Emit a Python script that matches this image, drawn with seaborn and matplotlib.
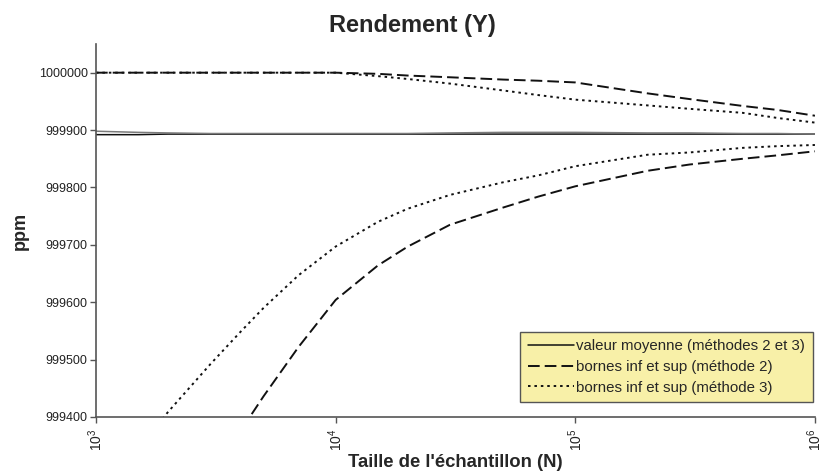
import matplotlib
matplotlib.use("Agg")
import matplotlib.pyplot as plt
import seaborn as sns
import numpy as np

sns.set_theme(style="white")
plt.rcParams["font.family"] = ["Liberation Sans", "DejaVu Sans"]
plt.rcParams["mathtext.fontset"] = "custom"
plt.rcParams["mathtext.rm"] = "Liberation Sans"
plt.rcParams["mathtext.it"] = "Liberation Sans:italic"
plt.rcParams["mathtext.bf"] = "Liberation Sans:bold"

# Sample sizes N
sample_sizes = [1000, 1500, 2000, 3000, 4000, 5000, 7000, 10000, 15000, 20000,
                30000, 50000, 70000, 100000, 200000, 300000, 500000, 700000, 1000000]

# Mean yield (ppm), methods 2 and 3
mean_m2 = [999898, 999896, 999895, 999894, 999894, 999894, 999894, 999894, 999894, 999894,
           999895, 999896, 999896, 999896, 999895, 999895, 999894, 999894, 999893]
mean_m3 = [999892, 999892, 999893, 999893, 999893, 999893, 999893, 999893, 999893, 999893,
           999893, 999893, 999893, 999893, 999893, 999893, 999893, 999893, 999893]

# Bounds, method 2
upper_m2 = [1000000, 1000000, 1000000, 1000000, 1000000, 1000000, 1000000, 1000000, 999998, 999995,
            999992, 999988, 999986, 999983, 999964, 999954, 999942, 999935, 999925]
lower_m2 = [998700, 998900, 999050, 999250, 999375, 999436, 999522, 999604, 999664, 999697,
            999735, 999765, 999784, 999802, 999829, 999840, 999850, 999856, 999863]

# Bounds, method 3
upper_m3 = [1000000, 1000000, 1000000, 1000000, 1000000, 1000000, 1000000, 1000000, 999994, 999989,
            999981, 999969, 999961, 999953, 999943, 999937, 999930, 999921, 999913]
lower_m3 = [999250, 999345, 999409, 999492, 999548, 999590, 999647, 999697, 999740, 999763,
            999787, 999809, 999821, 999837, 999857, 999861, 999869, 999872, 999874]

y_ticks = [999400, 999500, 999600, 999700, 999800, 999900, 1000000]
x_ticks = [1e3, 1e4, 1e5, 1e6]
x_tick_labels = [r"$10^{3}$", r"$10^{4}$", r"$10^{5}$", r"$10^{6}$"]

fig = plt.figure(figsize=(8.24, 4.73), dpi=100)
ax = fig.add_axes([0.1165, 0.1184, 0.8725, 0.7886])

dash_style = (0, (6, 2.6))
dot_style = (0, (1.3, 2.0))

sns.lineplot(x=sample_sizes, y=mean_m3, ax=ax, color="#111111", lw=1.1,
             label="valeur moyenne (méthodes 2 et 3)")
sns.lineplot(x=sample_sizes, y=mean_m2, ax=ax, color="#7a7a7a", lw=1.1, label="_nolegend_")
sns.lineplot(x=sample_sizes, y=upper_m2, ax=ax, color="#111111", lw=1.4, linestyle=dash_style,
             label="bornes inf et sup (méthode 2)")
sns.lineplot(x=sample_sizes, y=lower_m2, ax=ax, color="#111111", lw=1.4, linestyle=dash_style,
             label="_nolegend_")
sns.lineplot(x=sample_sizes, y=upper_m3, ax=ax, color="#111111", lw=1.4, linestyle=dot_style,
             label="bornes inf et sup (méthode 3)")
sns.lineplot(x=sample_sizes, y=lower_m3, ax=ax, color="#111111", lw=1.4, linestyle=dot_style,
             label="_nolegend_")

ax.set_xscale("log")
ax.set_xlim(1e3, 1e6)
ax.set_ylim(999400, 1000050)
ax.set_xticks(x_ticks)
ax.set_xticklabels(x_tick_labels, rotation=90, fontsize=10)
ax.xaxis.set_minor_locator(matplotlib.ticker.NullLocator())
ax.set_yticks(y_ticks)
ax.set_yticklabels([str(v) for v in y_ticks], fontsize=9, color="#222222")
for lbl in ax.get_xticklabels():
    lbl.set_color("#222222")

ax.tick_params(axis="both", which="major", direction="out", length=4, width=1,
               color="#555555", left=True, bottom=True, pad=2)
ax.tick_params(axis="x", pad=4)
for side in ["top", "right"]:
    ax.spines[side].set_visible(False)
for side in ["left", "bottom"]:
    ax.spines[side].set_color("#555555")
    ax.spines[side].set_linewidth(1.2)

ax.set_xlabel("Taille de l'échantillon (N)", fontsize=13.3, fontweight="bold", labelpad=2)
ax.set_ylabel("ppm", fontsize=13, fontweight="bold")
ax.yaxis.set_label_coords(-0.094, 0.5)
fig.suptitle("Rendement (Y)", fontsize=17, fontweight="bold", x=0.5, y=0.97)

leg = ax.legend(loc="lower right", bbox_to_anchor=(0.997, 0.04), borderaxespad=0,
                fontsize=10.8, frameon=True, fancybox=False, handlelength=3.1,
                handletextpad=0.15, borderpad=0.5, labelspacing=0.45)
leg.get_frame().set_facecolor("#f8f0a8")
leg.get_frame().set_edgecolor("#555555")
leg.get_frame().set_linewidth(1.0)
leg.get_frame().set_alpha(1)

fig.savefig("out.png", dpi=100)
